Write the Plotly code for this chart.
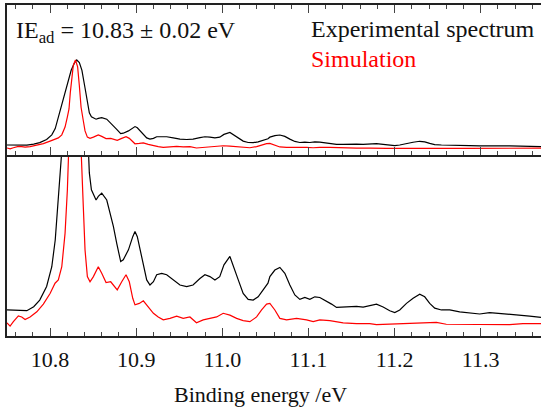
import plotly.graph_objects as go

# Experimental spectrum (binding energy in eV, intensity normalised to peak = 100)
exp_energy = [10.75, 10.765, 10.773, 10.781, 10.788, 10.796, 10.802, 10.806, 10.8085, 10.811,
              10.8135, 10.817, 10.8205, 10.8245, 10.828, 10.831, 10.834, 10.837, 10.8405, 10.8435,
              10.8456, 10.848, 10.8534, 10.856, 10.860, 10.8658, 10.8696, 10.8735, 10.8774, 10.882,
              10.885, 10.891, 10.896, 10.8986, 10.9013, 10.9044, 10.9083, 10.9122, 10.916, 10.92,
              10.9238, 10.9296, 10.9354, 10.943, 10.9508, 10.9586, 10.966, 10.974, 10.9798, 10.9856,
              10.9914, 10.997, 11.0019, 11.0088, 11.0127, 11.0185, 11.0242, 11.03, 11.0358, 11.0416,
              11.0474, 11.053, 11.0552, 11.061, 11.0668, 11.0726, 11.0784, 11.0842, 11.09, 11.0958,
              11.1016, 11.1074, 11.1132, 11.119, 11.1268, 11.1326, 11.1403, 11.148, 11.1558, 11.1635,
              11.1712, 11.179, 11.1867, 11.1944, 11.2002, 11.206, 11.2138, 11.2215, 11.2292, 11.235,
              11.2408, 11.2466, 11.2544, 11.264, 11.2756, 11.2872, 11.2988, 11.3104, 11.322, 11.3336,
              11.3452, 11.3568, 11.37]
exp_intensity = [1.1, 1.1, 0.9, 2.0, 3.8, 7.5, 12.9, 20.2, 29.3, 38.5,
                 48, 62, 76, 88, 96, 100, 97, 88, 68, 48,
                 38.5, 33.9, 31.1, 32.1, 33.0, 31.1, 27.5, 23.9, 19.3, 14.3,
                 14.8, 17.5, 21.1, 22.5, 21.1, 17.5, 12.9, 9.3, 7.9, 8.8,
                 10.7, 11.1, 10.7, 9.3, 7.9, 7.5, 7.9, 9.7, 10.7, 10.2,
                 9.3, 10.2, 13.4, 15.7, 12.9, 9.3, 5.6, 4.0, 3.8, 4.7,
                 6.6, 8.4, 10.2, 12.0, 12.7, 11.1, 7.9, 5.2, 4.0, 4.5,
                 4.0, 4.7, 4.5, 3.8, 2.7, 1.8, 1.9, 2.2, 2.1, 1.9,
                 2.3, 2.7, 1.9, 0.9, 0.4, 1.1, 2.9, 4.3, 5.4, 4.7,
                 2.9, 1.6, 1.1, 1.1, 0.6, 0.4, 0.0, 0.4, 0.2, 0.0,
                 -0.3, -0.6, -0.9]

# Simulation
sim_energy = [10.75, 10.7536, 10.7574, 10.7632, 10.7671, 10.771, 10.7768, 10.7846, 10.7922, 10.80,
              10.8058, 10.8096, 10.8136, 10.8174, 10.8201, 10.822, 10.8235, 10.825, 10.827, 10.8295,
              10.832, 10.834, 10.836, 10.8386, 10.8406, 10.8433, 10.8464, 10.8503, 10.856, 10.86,
              10.865, 10.8704, 10.8735, 10.878, 10.8832, 10.8882, 10.892, 10.896, 10.8986, 10.9036,
              10.9083, 10.914, 10.92, 10.9256, 10.9314, 10.9392, 10.947, 10.9546, 10.9624, 10.970,
              10.9778, 10.9856, 10.9934, 11.001, 11.0088, 11.0166, 11.0242, 11.032, 11.0398, 11.0456,
              11.0514, 11.0552, 11.061, 11.0668, 11.0746, 11.0862, 11.0978, 11.1055, 11.1132, 11.1248,
              11.1403, 11.1558, 11.1712, 11.179, 11.1906, 11.21, 11.2253, 11.2486, 11.26, 11.2872,
              11.318, 11.3336, 11.349, 11.37]
sim_intensity = [-2.4, -3.3, -2.1, -0.5, -0.8, -1.5, -0.8, 0.6, 2.7, 5.6,
                 8.4, 9.3, 12.9, 22, 33.9, 43, 62, 80, 94, 100,
                 92, 70, 45, 29.3, 17.5, 10.2, 8.8, 10.2, 12.9, 11.1,
                 8.6, 8.8, 7.9, 6.6, 8.8, 10.7, 8.8, 4.3, 2.5, 2.9,
                 3.6, 1.8, 0.2, -0.8, -1.6, -1.2, -0.6, -1.2, -0.8, -2.4,
                 -1.6, -1.2, -0.8, 0.2, -0.3, -1.2, -1.8, -2.1, -0.8, 1.1,
                 2.7, 2.9, 1.1, -1.2, -1.6, -1.2, -1.6, -2.1, -1.6, -1.8,
                 -2.4, -2.6, -2.6, -2.9, -2.8, -2.8, -2.6, -2.3, -2.8, -2.8,
                 -2.8, -2.9, -2.6, -2.6]

x_range = [10.75, 11.37]
top_y_range = [-10.5, 164]
bottom_y_range = [-6.0, 43.4]

FONT = "Liberation Serif"
TXT = "#111111"
AXC = "#222222"

fig = go.Figure()
for ax_x, ax_y in (("x", "y"), ("x2", "y2")):
    fig.add_trace(go.Scatter(x=exp_energy, y=exp_intensity, mode="lines",
                             line=dict(color="black", width=1.2),
                             xaxis=ax_x, yaxis=ax_y, showlegend=False, hoverinfo="skip"))
    fig.add_trace(go.Scatter(x=sim_energy, y=sim_intensity, mode="lines",
                             line=dict(color="#ff0000", width=1.2),
                             xaxis=ax_x, yaxis=ax_y, showlegend=False, hoverinfo="skip"))

split = 0.547
common_x = dict(range=x_range, showgrid=False, zeroline=False, showline=True,
                linecolor=AXC, linewidth=1.5, ticks="inside", ticklen=8, tickwidth=1.2,
                tickcolor="#444444", tick0=10.8, dtick=0.1, tickformat=".1f",
                minor=dict(ticks="inside", ticklen=4, tickwidth=1, tickcolor="#444444",
                           dtick=0.02, tick0=10.8, showgrid=False))

fig.update_layout(
    width=541, height=411,
    margin=dict(l=7, r=0, t=5, b=75),
    paper_bgcolor="white", plot_bgcolor="white",
    font=dict(family=FONT, color=TXT, size=22),
    xaxis=dict(**common_x, anchor="y", domain=[0, 1], mirror=False,
               showticklabels=True, tickfont=dict(size=22, family=FONT, color=TXT),
               ticklabelstandoff=3),
    xaxis2=dict(**common_x, anchor="y2", domain=[0, 1], matches="x", mirror="ticks",
                showticklabels=False),
    yaxis=dict(domain=[0, split], range=bottom_y_range, showgrid=False, zeroline=False,
               showline=True, linecolor=AXC, linewidth=1.5, ticks="", showticklabels=False),
    yaxis2=dict(domain=[split, 1], range=top_y_range, showgrid=False, zeroline=False,
                showline=True, linecolor=AXC, linewidth=1.5, ticks="", showticklabels=False),
    annotations=[
        dict(text="IE<sub>ad</sub> = 10.83 ± 0.02 eV", xref="paper", yref="paper",
             x=0.013, y=0.919, xanchor="left", yanchor="middle", showarrow=False,
             font=dict(size=24, family=FONT, color=TXT)),
        dict(text="Experimental spectrum", xref="paper", yref="paper",
             x=0.565, y=0.927, xanchor="left", yanchor="middle", showarrow=False,
             font=dict(size=24, family=FONT, color=TXT)),
        dict(text="Simulation", xref="paper", yref="paper",
             x=0.565, y=0.838, xanchor="left", yanchor="middle", showarrow=False,
             font=dict(size=24, family=FONT, color="#ff0000")),
        dict(text="Binding energy /eV", xref="paper", yref="paper",
             x=0.474, y=-0.178, xanchor="center", yanchor="middle", showarrow=False,
             font=dict(size=22, family=FONT, color=TXT)),
    ],
)

fig.write_html("out.html", config={"displayModeBar": False},
               post_script="document.body.style.margin='0';")
